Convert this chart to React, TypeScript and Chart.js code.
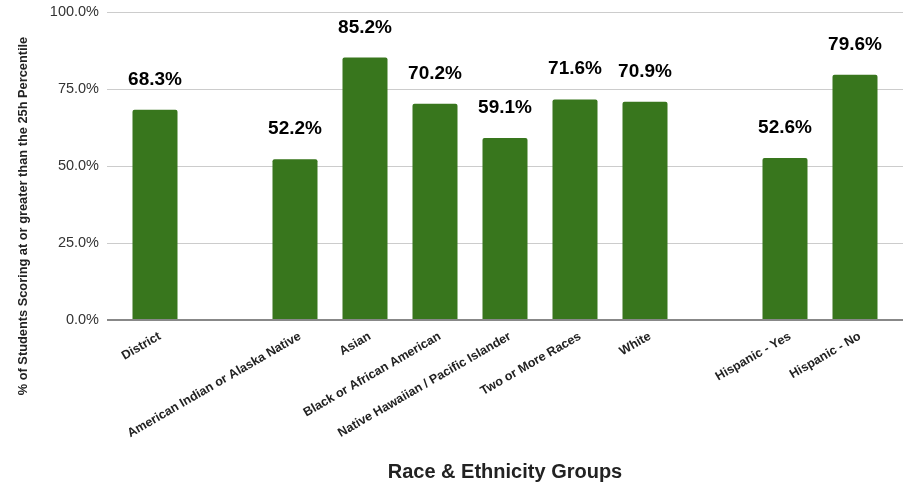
import React, { useEffect, useRef } from "react";
import { Chart, registerables } from "chart.js";

Chart.register(...registerables);

const categories = [
  "District",
  "",
  "American Indian or Alaska Native",
  "Asian",
  "Black or African American",
  "Native Hawaiian / Pacific Islander",
  "Two or More Races",
  "White",
  "",
  "Hispanic - Yes",
  "Hispanic - No",
];
const values: (number | null)[] = [68.3, null, 52.2, 85.2, 70.2, 59.1, 71.6, 70.9, null, 52.6, 79.6];
const yTickValues = [0, 25, 50, 75, 100];
const xTitle = "Race & Ethnicity Groups";
const yTitle = "% of Students Scoring at or greater than the 25h Percentile";

const FONT = "'Liberation Sans', Arial, Helvetica, sans-serif";
const GRID = "#cccccc";
const AXIS = "#888888";

export default function App() {
  const ref = useRef<HTMLCanvasElement | null>(null);

  useEffect(() => {
    if (!ref.current) return;

    const valueLabels = {
      id: "valueLabels",
      afterDatasetsDraw(chart: any) {
        const ctx = chart.ctx;
        const meta = chart.getDatasetMeta(0);
        ctx.save();
        ctx.font = `bold 19px ${FONT}`;
        ctx.fillStyle = "#000";
        ctx.textAlign = "center";
        ctx.textBaseline = "alphabetic";
        meta.data.forEach((el: any, i: number) => {
          const v = values[i];
          if (v === null || v === undefined) return;
          ctx.fillText(v.toFixed(1) + "%", el.x, el.y - 25);
        });
        ctx.restore();
      },
    };

    const yTitlePlugin = {
      id: "yTitlePlugin",
      afterDraw(chart: any) {
        const ctx = chart.ctx;
        ctx.save();
        ctx.translate(23, 216);
        ctx.rotate(-Math.PI / 2);
        ctx.font = `bold 12.8px ${FONT}`;
        ctx.fillStyle = "#222";
        ctx.textAlign = "center";
        ctx.textBaseline = "middle";
        ctx.fillText(yTitle, 0, 0);
        ctx.restore();
      },
    };

    const lineColor = (c: any) => (c.tick && c.tick.value === 0 ? AXIS : GRID);
    const lineWidth = (c: any) => (c.tick && c.tick.value === 0 ? 2 : 1);

    const chart = new Chart(ref.current, {
      type: "bar",
      data: {
        labels: categories,
        datasets: [
          {
            data: values,
            backgroundColor: "#38761d",
            barPercentage: 0.643,
            categoryPercentage: 1,
            borderRadius: 2,
          },
        ],
      },
      options: {
        animation: false,
        responsive: false,
        maintainAspectRatio: false,
        layout: { padding: { top: 12, left: 0, right: 0, bottom: 0 } },
        plugins: { legend: { display: false }, tooltip: { enabled: false } },
        scales: {
          x: {
            grid: { display: false },
            border: { display: false },
            ticks: {
              autoSkip: false,
              minRotation: 30,
              maxRotation: 30,
              color: "#222",
              font: { family: FONT, size: 12.5, weight: "bold" },
              padding: 1,
              labelOffset: 5,
            },
            title: {
              display: true,
              text: xTitle,
              color: "#222",
              font: { family: FONT, size: 20, weight: "bold" },
              padding: { top: 0, bottom: 1 },
            },
            afterFit(scale: any) {
              scale.height = 165;
            },
          },
          y: {
            min: 0,
            max: 100,
            afterBuildTicks(scale: any) {
              scale.ticks = yTickValues.map((v) => ({ value: v }));
            },
            grid: {
              color: lineColor,
              lineWidth: lineWidth,
              drawTicks: true,
              tickLength: 13,
            },
            border: { display: false },
            ticks: {
              color: "#333",
              padding: 8,
              font: { family: FONT, size: 14.5 },
              callback: (v: any) => Number(v).toFixed(1) + "%",
            },
            afterFit(scale: any) {
              scale.width = 120;
              scale.paddingTop = 0;
              scale.paddingBottom = 0;
            },
          },
          y2: {
            position: "right",
            min: 0,
            max: 100,
            afterBuildTicks(scale: any) {
              scale.ticks = yTickValues.map((v) => ({ value: v }));
            },
            grid: {
              drawOnChartArea: false,
              drawTicks: true,
              tickLength: 13,
              color: lineColor,
              lineWidth: lineWidth,
            },
            border: { display: false },
            ticks: { display: false },
            afterFit(scale: any) {
              scale.width = 14;
              scale.paddingTop = 0;
              scale.paddingBottom = 0;
            },
          },
        },
      },
      plugins: [valueLabels, yTitlePlugin],
    } as any);

    return () => chart.destroy();
  }, []);

  return (
    <div style={{ position: "fixed", left: 0, top: 0, width: 904, height: 485, background: "#fff" }}>
      <canvas ref={ref} width={904} height={485} style={{ width: 904, height: 485, display: "block" }} />
    </div>
  );
}
